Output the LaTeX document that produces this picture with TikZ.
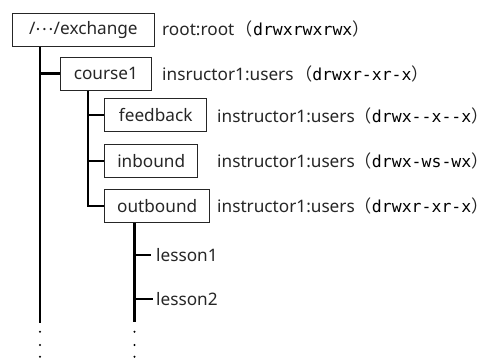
\documentclass[tikz,border=0pt]{standalone}
\usepackage{fontspec}
\setmainfont{Noto Sans}
\newfontfamily\cjkfont{Noto Sans CJK JP}
\newfontfamily\permfont{DejaVu Sans Mono}
\newcommand{\lbl}{\fontsize{17.2}{20}\selectfont}
% mode string in full-width parentheses
\newcommand{\perm}[1]{{\cjkfont（}{\permfont\fontsize{16.5}{20}\selectfont\color{black}#1}{\cjkfont）}}
\newcommand{\mdots}{\raisebox{4pt}{\cjkfont ⋯}}
\tikzset{
  dirbox/.style={draw=black!85, line width=0.8pt, anchor=north west, inner sep=0pt,
    minimum height=33pt, text=black!85, font=\lbl},
  owner/.style={anchor=west, inner sep=0pt, text=black!85, font=\lbl},
  leaf/.style={anchor=west, inner sep=0pt, text=black!85, font=\lbl},
  tree/.style={line width=2.4pt, black},
  twig/.style={line width=2.4pt, black},
  etc/.style={circle, fill=black, inner sep=0pt, minimum size=2.2pt}
}
\begin{document}
\begin{tikzpicture}[x=1pt, y=-1pt]
\useasboundingbox (0,0) rectangle (490,359);

% directories
\node[dirbox, minimum width=142pt] (root) at (12,12.7) {/\mdots/exchange};
\node[dirbox, minimum width=91pt] (course) at (60,56.7) {course1};
\node[dirbox, minimum width=102pt] (feedback) at (104.3,98.3) {feedback};
\node[dirbox, minimum width=93pt] (inbound) at (104.3,144.3) {inbound};
\node[dirbox, minimum width=105pt] (outbound) at (104.3,189) {outbound};

% owners and modes
\node[owner] (rootown) at (162,29) {root:root\hspace{1.5pt}\perm{drwxrwxrwx}};
\node[owner] (courseown) at (162,73.5) {insructor1:users\hspace{1.5pt}\perm{drwxr-xr-x}};
\node[owner] (feedbackown) at (217,115.5) {instructor1:users\perm{drwx--x--x}};
\node[owner] (inboundown) at (217,161) {instructor1:users\perm{drwx-ws-wx}};
\node[owner] (outboundown) at (217,206) {instructor1:users\perm{drwxr-xr-x}};

% lesson entries
\node[leaf] (lesson1) at (156,255) {lesson1};
\node[leaf] (lesson2) at (156,299) {lesson2};

% trunk lines
\coordinate (trunkend) at (40,323);
\coordinate (coursebr) at (88,0);
\coordinate (lessonend) at (134.5,322);
\draw[tree] (root.south -| trunkend) -- (trunkend);
\draw[tree] (course.south -| coursebr) |- (outbound.west);
\draw[tree] (outbound.south -| lessonend) -- (lessonend);

% branches
\draw[twig] (course.west -| trunkend) -- (course.west);
\draw[twig] (feedback.west -| coursebr) -- (feedback.west);
\draw[twig] (inbound.west -| coursebr) -- (inbound.west);
\draw[twig] (lesson1.west -| lessonend) -- ([xshift=-5pt]lesson1.west);
\draw[twig] (lesson2.west -| lessonend) -- ([xshift=-3pt]lesson2.west);

% continuation dots
\foreach \yy in {331.7,345,356.7} {
  \node[etc] (dotA\yy) at (40,\yy) {};
  \node[etc] (dotB\yy) at (134.5,\yy) {};
}
\end{tikzpicture}
\end{document}
